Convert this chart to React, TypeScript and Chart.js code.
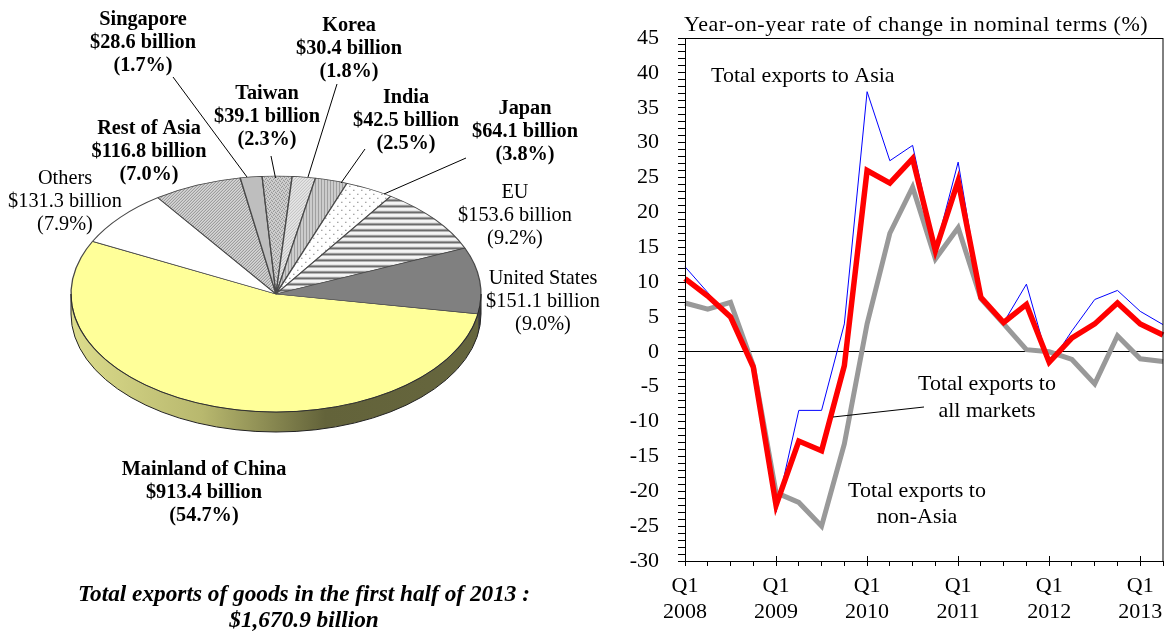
import React, { useEffect, useRef } from "react";
import { Chart, registerables } from "chart.js";

Chart.register(...registerables);

// ---------- data ----------
const marketNames = ["Mainland of China", "Others", "Rest of Asia", "Singapore", "Taiwan", "Korea", "India", "Japan", "EU", "United States"];
const marketValues = [913.4, 131.3, 116.8, 28.6, 39.1, 30.4, 42.5, 64.1, 153.6, 151.1];
const marketShares = ["54.7", "7.9", "7.0", "1.7", "2.3", "1.8", "2.5", "3.8", "9.2", "9.0"];

const quarters = [
  "Q1 2008", "Q2 2008", "Q3 2008", "Q4 2008",
  "Q1 2009", "Q2 2009", "Q3 2009", "Q4 2009",
  "Q1 2010", "Q2 2010", "Q3 2010", "Q4 2010",
  "Q1 2011", "Q2 2011", "Q3 2011", "Q4 2011",
  "Q1 2012", "Q2 2012", "Q3 2012", "Q4 2012",
  "Q1 2013", "Q2 2013",
];
const exportsToAsia = [12.2, 8.5, 4.6, -2, -23, -8.4, -8.4, 4, 37.3, 27.4, 29.6, 14.6, 27.2, 7.8, 4.2, 9.7, -1.9, 3, 7.5, 8.8, 5.8, 3.9];
const exportsAllMarkets = [10.5, 8, 5, -2.2, -22, -12.8, -14.2, -2, 26, 24.2, 27.7, 14.5, 24.5, 7.8, 4.2, 6.8, -1.5, 2, 4, 7, 4, 2.4];
const exportsNonAsia = [7, 6.1, 7.1, -2, -20.2, -21.6, -25, -13.2, 4, 17, 23.6, 13.3, 17.8, 7.6, 4, 0.3, 0, -1.1, -4.6, 2.3, -1, -1.4];

const chartTitle = "Year-on-year rate of change in nominal terms (%)";
const footnoteLines = ["Total exports of goods in the first half of 2013 :", "$1,670.9 billion"];

// ---------- layout ----------
const SERIF = '"Liberation Serif", "Times New Roman", serif';
const PIE_CX = 276;
const PIE_CY = 294;
const PIE_RX = 205;
const PIE_RY = 118;
const PIE_DEPTH = 20;
const SQUASH = PIE_RY / PIE_RX;

// [centre x, first line y, bold] by market index
const labelPlacement: [number, number, boolean][] = [
  [204, 470, true],
  [65, 179, false],
  [149, 129, true],
  [143, 20, true],
  [267, 94, true],
  [349, 26, true],
  [406, 98, true],
  [525, 109, true],
  [515, 193, false],
  [543, 279, false],
];
const LEADERS = [
  [173, 77, 247, 177],
  [271, 156, 275.5, 178],
  [337, 84, 308, 177],
  [365, 149, 341, 183],
  [466, 158, 384, 194],
];

function makePattern(w: number, h: number, paint: (c: CanvasRenderingContext2D) => void) {
  const tile = document.createElement("canvas");
  tile.width = w;
  tile.height = h;
  const c = tile.getContext("2d")!;
  paint(c);
  const p = c.createPattern(tile, "repeat")!;
  p.setTransform(new DOMMatrix([1, 0, 0, 1 / SQUASH, 0, 0]));
  return p;
}

function buildSliceFills() {
  const px = (c: CanvasRenderingContext2D, col: string, pts: number[][]) => {
    c.fillStyle = col;
    pts.forEach(([x, y]) => c.fillRect(x, y, 1, 1));
  };
  const base = (c: CanvasRenderingContext2D, col: string, w: number, h: number) => {
    c.fillStyle = col;
    c.fillRect(0, 0, w, h);
  };
  const rest = makePattern(3, 3, (c) => {
    base(c, "#d6d6d6", 3, 3);
    px(c, "#8c8c8c", [[0, 2], [1, 1], [2, 0]]);
  });
  const taiwan = makePattern(4, 4, (c) => {
    base(c, "#d0d0d0", 4, 4);
    px(c, "#888888", [[0, 0], [2, 1], [1, 2], [3, 3]]);
  });
  const korea = makePattern(3, 3, (c) => {
    base(c, "#e6e6e6", 3, 3);
    px(c, "#bdbdbd", [[0, 0], [2, 1], [1, 2]]);
  });
  const india = makePattern(3, 3, (c) => {
    base(c, "#cccccc", 3, 3);
    c.fillStyle = "#a0a0a0";
    c.fillRect(0, 0, 1, 3);
  });
  const japan = makePattern(8, 8, (c) => {
    base(c, "#ffffff", 8, 8);
    px(c, "#8e8e8e", [[1, 1], [5, 5]]);
    px(c, "#c4c4c4", [[2, 1], [6, 5]]);
  });
  const eu = makePattern(1, 6, (c) => {
    base(c, "#f4f4f4", 1, 6);
    px(c, "#b0b0b0", [[0, 2]]);
    px(c, "#5c5c5c", [[0, 3]]);
    px(c, "#a0a0a0", [[0, 4]]);
  });
  return ["#ffff99", "#ffffff", rest, "#bebebe", taiwan, korea, india, japan, eu, "#808080"];
}

const sideColors = ["", "", "", "", "", "", "", "", "#555555", "#3c3c3c"];

const piePlugin = {
  id: "pie3d",
  beforeDatasetsDraw(chart: any) {
    const ctx: CanvasRenderingContext2D = chart.ctx;
    const arcs = chart.getDatasetMeta(0).data;
    const grad = ctx.createLinearGradient(PIE_CX - PIE_RX, 0, PIE_CX + PIE_RX, 0);
    grad.addColorStop(0, "#dcdc8c");
    grad.addColorStop(0.32, "#b8b86e");
    grad.addColorStop(0.62, "#63633a");
    grad.addColorStop(1, "#66663e");
    arcs.forEach((arc: any, i: number) => {
      const { startAngle, endAngle } = arc.getProps(["startAngle", "endAngle"]);
      const wrap = endAngle > 2 * Math.PI ? 2 * Math.PI : 0;
      const a0 = Math.max(startAngle - wrap, 0);
      const a1 = Math.min(endAngle - wrap, Math.PI);
      if (a1 <= a0) return;
      ctx.beginPath();
      ctx.ellipse(PIE_CX, PIE_CY, PIE_RX, PIE_RY, 0, a0, a1);
      ctx.ellipse(PIE_CX, PIE_CY + PIE_DEPTH, PIE_RX, PIE_RY, 0, a1, a0, true);
      ctx.closePath();
      ctx.fillStyle = i === 0 ? grad : sideColors[i] || "#555";
      ctx.fill();
    });
    ctx.beginPath();
    ctx.ellipse(PIE_CX, PIE_CY + PIE_DEPTH, PIE_RX, PIE_RY, 0, 0, Math.PI);
    ctx.moveTo(PIE_CX - PIE_RX, PIE_CY);
    ctx.lineTo(PIE_CX - PIE_RX, PIE_CY + PIE_DEPTH);
    ctx.moveTo(PIE_CX + PIE_RX, PIE_CY);
    ctx.lineTo(PIE_CX + PIE_RX, PIE_CY + PIE_DEPTH);
    ctx.strokeStyle = "#222";
    ctx.lineWidth = 1;
    ctx.stroke();
    ctx.save();
    ctx.translate(0, PIE_CY);
    ctx.scale(1, SQUASH);
    ctx.translate(0, -PIE_CY);
  },
  afterDatasetsDraw(chart: any) {
    const ctx: CanvasRenderingContext2D = chart.ctx;
    ctx.restore();
    ctx.strokeStyle = "#222";
    ctx.lineWidth = 0.8;
    ctx.beginPath();
    ctx.ellipse(PIE_CX, PIE_CY, PIE_RX, PIE_RY, 0, 0, Math.PI);
    ctx.stroke();
    ctx.strokeStyle = "#000";
    ctx.lineWidth = 1;
    LEADERS.forEach(([x0, y0, x1, y1]) => {
      ctx.beginPath();
      ctx.moveTo(x0, y0);
      ctx.lineTo(x1, y1);
      ctx.stroke();
    });
    ctx.fillStyle = "#000";
    ctx.textAlign = "center";
    ctx.textBaseline = "middle";
    marketNames.forEach((name, i) => {
      const [x, y, bold] = labelPlacement[i];
      ctx.font = `${bold ? "bold " : ""}20.3px ${SERIF}`;
      ctx.fillText(name, x, y);
      ctx.fillText(`$${marketValues[i]} billion`, x, y + 23);
      ctx.fillText(`(${marketShares[i]}%)`, x, y + 46);
    });
    ctx.font = `italic bold 23.3px ${SERIF}`;
    ctx.fillText(footnoteLines[0], 304, 595);
    ctx.fillText(footnoteLines[1], 304, 621);
  },
};

const PLOT_LEFT = 85;
const linePlugin = {
  id: "lineExtras",
  afterDraw(chart: any) {
    const ctx: CanvasRenderingContext2D = chart.ctx;
    const { left, right, top, bottom } = chart.chartArea;
    ctx.save();
    ctx.strokeStyle = "#000";
    ctx.lineWidth = 1;
    ctx.strokeRect(left + 0.5, top + 0.5, right - left - 0.5, bottom - top);
    const xs = chart.scales.x;
    quarters.forEach((q, i) => {
      if (!q.startsWith("Q1")) return;
      const x = Math.round(xs.getPixelForValue(i)) + 0.5;
      ctx.beginPath();
      ctx.moveTo(x, bottom - 5);
      ctx.lineTo(x, bottom);
      ctx.stroke();
    });
    // leader of the "all markets" note
    ctx.beginPath();
    ctx.moveTo(233, 417);
    ctx.lineTo(324, 407);
    ctx.stroke();
    ctx.fillStyle = "#000";
    ctx.textBaseline = "middle";
    ctx.font = `22px ${SERIF}`;
    ctx.textAlign = "left";
    (ctx as any).letterSpacing = "0.55px";
    ctx.fillText(chartTitle, 84, 25);
    (ctx as any).letterSpacing = "0px";
    ctx.fillText("Total exports to Asia", 111, 76);
    ctx.textAlign = "center";
    ctx.fillText("Total exports to", 387, 384);
    ctx.fillText("all markets", 387, 411);
    ctx.fillText("Total exports to", 317, 491);
    ctx.fillText("non-Asia", 317, 517);
    ctx.restore();
  },
};

export default function App() {
  const pieRef = useRef<HTMLCanvasElement>(null);
  const lineRef = useRef<HTMLCanvasElement>(null);

  useEffect(() => {
    const pie = new Chart(pieRef.current!, {
      type: "pie",
      data: {
        labels: marketNames,
        datasets: [
          {
            data: marketValues,
            backgroundColor: buildSliceFills() as any,
            borderColor: "#484848",
            borderWidth: 1.3,
            clip: false as any,
          },
        ],
      },
      options: {
        responsive: false,
        animation: false,
        rotation: 99.7,
        radius: PIE_RX,
        layout: { padding: { left: 0, top: 0, right: 48, bottom: 46 } },
        plugins: { legend: { display: false }, tooltip: { enabled: false }, title: { display: false } },
      },
      plugins: [piePlugin as any],
    });

    const line = new Chart(lineRef.current!, {
      type: "line",
      data: {
        labels: quarters,
        datasets: [
          { label: "Total exports to non-Asia", data: exportsNonAsia, borderColor: "#999999", borderWidth: 5, order: 3 },
          { label: "Total exports to Asia", data: exportsToAsia, borderColor: "#0000ff", borderWidth: 1, order: 2 },
          { label: "Total exports to all markets", data: exportsAllMarkets, borderColor: "#ff0000", borderWidth: 5.5, order: 1 },
        ].map((d) => ({ ...d, pointRadius: 0, tension: 0, fill: false, borderJoinStyle: "miter" as const, borderCapStyle: "butt" as const })),
      },
      options: {
        responsive: false,
        animation: false,
        layout: { padding: { top: 38, right: 5, left: 0, bottom: 0 } },
        plugins: { legend: { display: false }, tooltip: { enabled: false }, title: { display: false } },
        scales: {
          x: {
            type: "category",
            offset: false,
            grid: { drawOnChartArea: false, tickLength: 5, tickColor: "#000", tickWidth: 1 },
            border: { color: "#000", width: 1 },
            ticks: {
              autoSkip: false,
              maxRotation: 0,
              minRotation: 0,
              padding: 7,
              color: "#000",
              font: { family: SERIF, size: 22, lineHeight: 1.18 },
              callback(_v: any, i: number) {
                const [q, year] = quarters[i].split(" ");
                return q === "Q1" ? [q, year] : "";
              },
            },
            afterFit(s: any) {
              s.height = 73;
              s.paddingRight = 0;
              s.paddingLeft = 0;
            },
          },
          y: {
            type: "linear",
            min: -30,
            max: 45,
            grid: {
              tickLength: 7,
              tickColor: "#000",
              tickWidth: 1,
              color: (c: any) => (c.tick && c.tick.value === 0 ? "#000" : "transparent"),
            },
            border: { color: "#000", width: 1 },
            ticks: {
              stepSize: 1,
              autoSkip: false,
              padding: 19,
              color: "#000",
              font: { family: SERIF, size: 22 },
              callback(v: any) {
                return Number(v) % 5 === 0 ? String(v) : "";
              },
            },
            afterFit(s: any) {
              s.width = PLOT_LEFT;
              s.paddingTop = 0;
              s.paddingBottom = 0;
            },
          },
        },
      },
      plugins: [linePlugin as any],
    });

    return () => {
      pie.destroy();
      line.destroy();
    };
  }, []);

  return (
    <div style={{ position: "fixed", left: 0, top: 0, width: 1168, height: 634, background: "#fff", overflow: "hidden" }}>
      <canvas ref={pieRef} width={600} height={634} style={{ position: "absolute", left: 0, top: 0, width: 600, height: 634, display: "block" }} />
      <canvas ref={lineRef} width={568} height={634} style={{ position: "absolute", left: 600, top: 0, width: 568, height: 634, display: "block" }} />
    </div>
  );
}
